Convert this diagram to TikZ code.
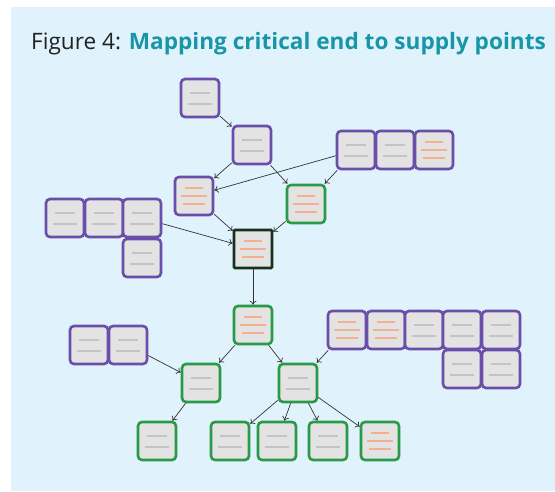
\documentclass[tikz,border=0pt]{standalone}
\usepackage{fontspec}
\setmainfont{Open Sans}
\usetikzlibrary{arrows, arrows.meta}

\definecolor{panel}{HTML}{E0F2FB}
\definecolor{titleteal}{HTML}{1896A8}
\definecolor{titlegrey}{HTML}{222222}
\definecolor{boxgrey}{HTML}{E3E3E3}
\definecolor{purp}{HTML}{6A4FAA}
\definecolor{grn}{HTML}{2A9A48}
\definecolor{darkgrn}{HTML}{15301C}
\definecolor{txtgrey}{HTML}{C4C4C4}
\definecolor{txtorange}{HTML}{F4B092}

\begin{document}
\begin{tikzpicture}[
        x=1pt, y=-1pt,
        box/.style={draw, rounded corners=4pt, line width=2.6pt, fill=boxgrey,
            minimum size=38pt, inner sep=0pt},
        purplebox/.style={box, draw=purp},
        greenbox/.style={box, draw=grn},
        rootbox/.style={box, draw=darkgrn, rounded corners=1pt},
        greytext/.style={path picture={
            \draw[line width=2.4pt, txtgrey]
                ([shift={(-10pt,5pt)}]path picture bounding box.center) -- ++(20pt,0pt)
                ([shift={(-12pt,-6pt)}]path picture bounding box.center) -- ++(24pt,0pt);}},
        orangetext/.style={path picture={
            \draw[line width=2.4pt, txtorange]
                ([shift={(-9pt,8pt)}]path picture bounding box.center) -- ++(18pt,0pt)
                ([shift={(-13pt,0pt)}]path picture bounding box.center) -- ++(26pt,0pt)
                ([shift={(-11pt,-8pt)}]path picture bounding box.center) -- ++(22pt,0pt);}},
        pile/.style={-{To[length=4pt, width=7pt]}, line width=0.7pt, draw=black!80}
    ]
    \useasboundingbox (0,0) rectangle (555,491);
    \fill[panel] (11,7) rectangle (555,491);

    \node[anchor=base west, font=\fontsize{22.6}{26}\selectfont, inner sep=0pt] (title) at (31,49)
        {\textcolor{titlegrey}{Figure 4:} \textcolor{titleteal}{\bfseries Mapping critical end to supply points}};

    %% upper tree
    \node[purplebox, greytext] (src) at (200,98) {};
    \node[purplebox, greytext] (feed) at (252,145) {};
    \node[purplebox, orangetext] (left) at (194,196) {};
    \node[greenbox, orangetext] (right) at (306,204) {};
    \node[rootbox, orangetext] (endpt) at (253,249) {};

    \node[purplebox, greytext] (ne1) at (356,150) {};
    \node[purplebox, greytext] (ne2) at (395,150) {};
    \node[purplebox, orangetext] (ne3) at (434,150) {};

    \node[purplebox, greytext] (w1) at (65,218) {};
    \node[purplebox, greytext] (w2) at (104,218) {};
    \node[purplebox, greytext] (w3) at (142,218) {};
    \node[purplebox, greytext] (w4) at (142,258) {};

    %% lower tree
    \node[greenbox, orangetext] (hub) at (253,325) {};
    \node[greenbox, greytext] (lhub) at (201,383) {};
    \node[greenbox, greytext] (rhub) at (298,383) {};

    \node[purplebox, greytext] (sw1) at (89,345) {};
    \node[purplebox, greytext] (sw2) at (128,345) {};

    \node[purplebox, orangetext] (se1) at (347,330) {};
    \node[purplebox, orangetext] (se2) at (386,330) {};
    \node[purplebox, greytext] (se3) at (424,330) {};
    \node[purplebox, greytext] (se4) at (462,330) {};
    \node[purplebox, greytext] (se5) at (501,330) {};
    \node[purplebox, greytext] (se6) at (462,369) {};
    \node[purplebox, greytext] (se7) at (501,369) {};

    \node[greenbox, greytext] (pt1) at (157,441) {};
    \node[greenbox, greytext] (pt2) at (230,441) {};
    \node[greenbox, greytext] (pt3) at (277,441) {};
    \node[greenbox, greytext] (pt4) at (328,441) {};
    \node[greenbox, orangetext] (pt5) at (380,441) {};

    %% connectors
    \draw[pile] (src) -- (feed);
    \draw[pile] (feed) -- (left);
    \draw[pile] (feed) -- (right);
    \draw[pile] (ne1) -- (left);
    \draw[pile] (ne1) -- (right);
    \draw[pile] (left) -- (endpt);
    \draw[pile] (right) -- (endpt);
    \draw[pile] (w3) -- (endpt);
    \draw[pile] (endpt) -- (hub);

    \draw[pile] (hub) -- (lhub);
    \draw[pile] (hub) -- (rhub);
    \draw[pile] (sw2) -- (lhub);
    \draw[pile] (se1) -- (rhub);
    \draw[pile] (lhub) -- (pt1);
    \draw[pile] (rhub) -- (pt2);
    \draw[pile] (rhub) -- (pt3);
    \draw[pile] (rhub) -- (pt4);
    \draw[pile] (rhub) -- (pt5);

\end{tikzpicture}
\end{document}
